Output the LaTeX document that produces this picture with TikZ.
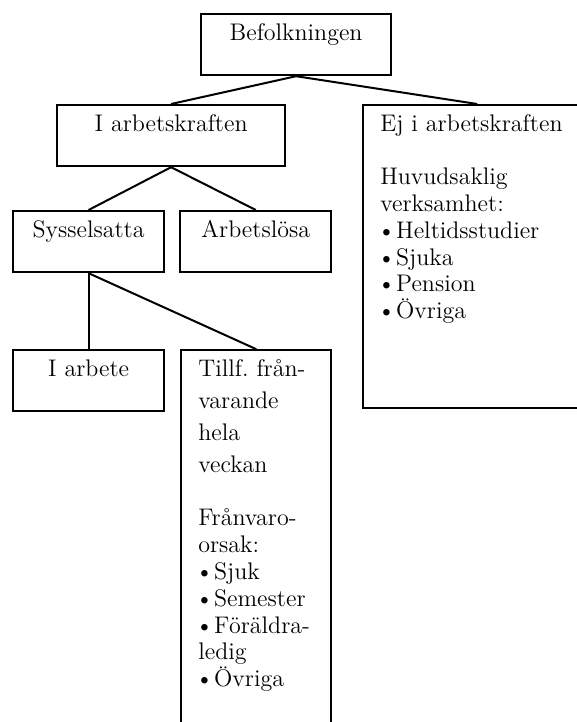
\documentclass[tikz,border=0pt]{standalone}
\usepackage{fontspec}
\usepackage{tikz}
\usetikzlibrary{positioning}
\newcommand{\itm}{\hspace*{-1.5pt}\textbullet\hspace{0.3pt}}
\tikzset{
 box/.style={
 rectangle,
 draw,
 line width=1.1pt,
 anchor=north west,
 inner xsep=8.5pt,
 inner ysep=4pt,
 text height=9pt,
 text depth=13.5pt,
 font=\fontsize{12}{13.4}\selectfont
 },
 titlebox/.style={box, align=center, text width=#1},
 listbox/.style={box, align=left, text width=#1},
 link/.style={line width=1pt}
}

\begin{document}
\begin{tikzpicture}
 \useasboundingbox (0,0) rectangle (288.5pt,-361pt);
 \clip (0,0) rectangle (288.5pt,-361pt);

 \node[titlebox=78pt] (bef) at (100pt,-6.5pt) {Befolkningen};
 \node[titlebox=97pt] (ia) at (28pt,-52pt) {I arbetskraften};
 \node[listbox=97pt, text depth=134.5pt, xshift=38pt] (ej) at (ia.north east)
 {Ej i arbetskraften\\[13.4pt]
 Huvudsaklig\\ verksamhet:\\
 \itm Heltidsstudier\\ \itm Sjuka\\
 \itm Pension\\ \itm Övriga};

 \node[titlebox=58.5pt] (syss) at (6pt,-105pt) {Sysselsatta};
 \node[titlebox=58.5pt, right=7pt of syss] (arb) {Arbetslösa};
 \node[titlebox=58.5pt, below=38pt of syss] (iarb) {I arbete};
 \node[listbox=58pt, text depth=189.5pt, xshift=7.5pt] (tillf) at (iarb.north east)
 {Tillf.\ från-\\[2.6pt] varande\\[2.6pt] hela\\[2.6pt] veckan\\[13.4pt]
 Frånvaro-\\ orsak:\\ \itm Sjuk\\ \itm Semester\\
 \itm Föräldra-\\ ledig\\ \itm Övriga};

 \draw[link] (bef.south) -- (ia.north);
 \draw[link] (bef.south) -- (ej.north);
 \draw[link] (ia.south) -- (syss.north);
 \draw[link] (ia.south) -- (arb.north);
 \draw[link] (syss.south) -- (iarb.north);
 \draw[link] (syss.south) -- (tillf.north);
\end{tikzpicture}
\end{document}
